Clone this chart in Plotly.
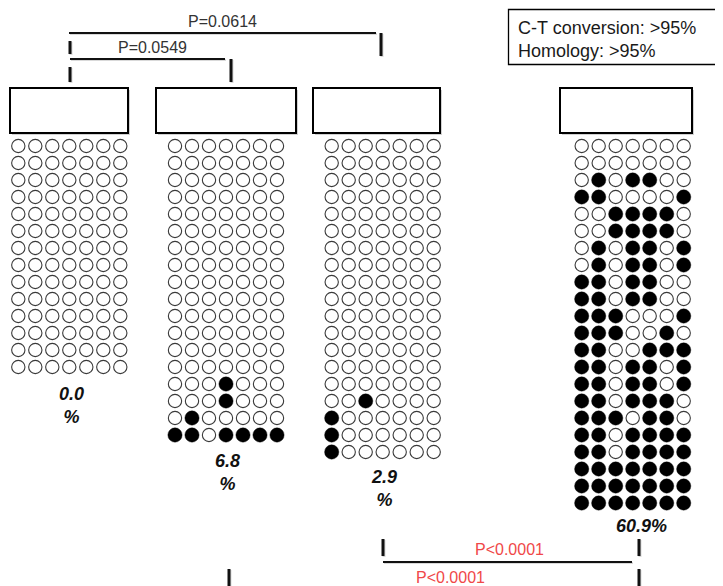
import plotly.graph_objects as go

# ---------------- data ----------------
# methylation pattern of each clone (row): 1 = methylated CpG (filled), 0 = unmethylated (open)
sample1 = ["0000000"] * 14
sample2 = ["0000000"] * 14 + ["0001000", "0001000", "0100000", "1101111"]
sample3 = ["0000000"] * 15 + ["0010000", "1000000", "1000000", "1000000"]
sample4 = [
    "0000000", "0000000", "0101100", "1100001", "0011110", "0011110",
    "0101101", "0101101", "1101100", "1101100", "1110001", "1110010",
    "1100111", "1101101", "1101101", "1101110", "1110110", "1101111",
    "1101111", "1111111", "1111111", "1111111",
]
samples = [sample1, sample2, sample3, sample4]
pct_labels = ["0.0<br>%", "6.8<br>%", "2.9<br>%", "60.9%"]
pvalues_top = ["P=0.0614", "P=0.0549"]
pvalues_bottom = ["P<0.0001", "P<0.0001"]
legend_lines = ["C-T conversion: >95%", "Homology: >95%"]

# ---------------- layout constants (pixel space of the window) ----------------
W, H = 723, 586
OFF = 8  # page body margin
group_x0 = [18.3, 175.0, 331.7, 581.7]   # x of first CpG column of each sample
step = 17.0
row_y0 = 146.0
boxes = [(10, 128), (156, 296), (313, 440), (560, 692)]
box_y = (88, 133)
pct_pos = [(71, 405), (227.5, 472), (384, 488), (641, 526)]

fig = go.Figure()

for gi, pat in enumerate(samples):
    xs_o, ys_o, xs_f, ys_f = [], [], [], []
    for ri, row in enumerate(pat):
        for ci, ch in enumerate(row):
            x = group_x0[gi] + ci * step
            y = row_y0 + ri * step
            if ch == "1":
                xs_f.append(x); ys_f.append(y)
            else:
                xs_o.append(x); ys_o.append(y)
    fig.add_trace(go.Scatter(x=xs_o, y=ys_o, mode="markers", hoverinfo="skip",
                             marker=dict(size=13.3, color="white",
                                         line=dict(color="#3a3a3a", width=1.1))))
    fig.add_trace(go.Scatter(x=xs_f, y=ys_f, mode="markers", hoverinfo="skip",
                             marker=dict(size=14.3, color="black",
                                         line=dict(color="black", width=0.4))))

shapes = []
# sample boxes with soft shadow
for (x0, x1) in boxes:
    shapes.append(dict(type="rect", x0=x0 + 2, x1=x1 + 2, y0=box_y[0] + 2, y1=box_y[1] + 2,
                       line=dict(width=0), fillcolor="rgba(0,0,0,0.18)", layer="below"))
    shapes.append(dict(type="rect", x0=x0, x1=x1, y0=box_y[0], y1=box_y[1],
                       line=dict(color="black", width=2), fillcolor="white", layer="below"))

def seg(x0, y0, x1, y1, w):
    shapes.append(dict(type="line", x0=x0 + 1, y0=y0 + 1, x1=x1 + 1, y1=y1 + 1,
                       line=dict(color="rgba(0,0,0,0.15)", width=w)))
    shapes.append(dict(type="line", x0=x0, y0=y0, x1=x1, y1=y1,
                       line=dict(color="#111111", width=w)))

# top brackets
seg(69, 33, 376, 33, 2)
seg(381, 33, 381, 56, 3)
seg(70, 41, 70, 54, 3)
seg(70, 59, 225, 59, 2)
seg(231, 59, 231, 82, 3)
seg(70, 67, 70, 82, 3)
# bottom brackets
seg(383, 539, 383, 556, 3)
seg(383, 562, 632, 562, 2)
seg(639, 539, 639, 556, 3)
seg(639, 569, 639, 590, 3)
seg(229, 569, 229, 590, 3)

# legend box
shapes.append(dict(type="rect", x0=508.5, x1=722, y0=9.5, y1=64.5,
                   line=dict(color="black", width=1.3), fillcolor="white"))

ann = []
font_p = dict(family="Liberation Sans, Arial, sans-serif", size=16, color="#333333")
ann.append(dict(x=222, y=21, text=pvalues_top[0], showarrow=False, font=font_p))
ann.append(dict(x=152, y=47, text=pvalues_top[1], showarrow=False, font=font_p))
font_r = dict(family="Liberation Sans, Arial, sans-serif", size=16, color="#f04848")
ann.append(dict(x=509, y=549, text=pvalues_bottom[0], showarrow=False, font=font_r))
ann.append(dict(x=450, y=577, text=pvalues_bottom[1], showarrow=False, font=font_r))
for i, (x, y) in enumerate(pct_pos):
    ann.append(dict(x=x, y=y, text="<b><i>" + pct_labels[i].replace("<br>", "</i></b><br><b><i>") + "</i></b>",
                    showarrow=False,
                    font=dict(family="Liberation Sans, Arial, sans-serif", size=18, color="#111111")))
font_l = dict(family="Liberation Sans, Arial, sans-serif", size=18, color="#1a1a1a")
ann.append(dict(x=516, y=28, text=legend_lines[0], showarrow=False, xanchor="left", font=font_l))
ann.append(dict(x=516, y=51, text=legend_lines[1], showarrow=False, xanchor="left", font=font_l))

fig.update_layout(
    width=W - OFF, height=H - OFF, margin=dict(l=0, r=0, t=0, b=0),
    paper_bgcolor="white", plot_bgcolor="white", showlegend=False,
    xaxis=dict(range=[OFF, W], visible=False, fixedrange=True),
    yaxis=dict(range=[H, OFF], visible=False, fixedrange=True),
    shapes=shapes, annotations=ann,
)
fig.write_html("out.html")
